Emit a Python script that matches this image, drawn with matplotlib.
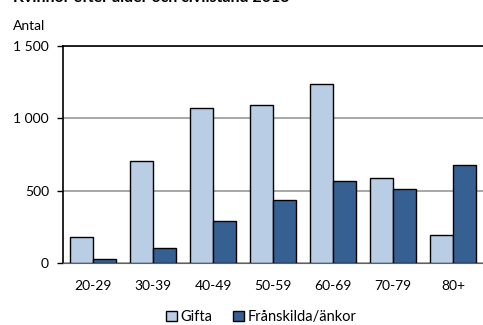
import matplotlib
matplotlib.use('Agg')
import matplotlib.pyplot as plt
import numpy as np

plt.rcParams['font.family'] = ['Lato', 'DejaVu Sans']

groups = ['20-29', '30-39', '40-49', '50-59', '60-69', '70-79', '80+']
gifta = [182, 707, 1071, 1092, 1237, 590, 191]
franskilda = [28, 106, 290, 435, 565, 511, 675]
yticks = [0, 500, 1000, 1500]
ylabels = ['0', '500', '1 000', '1 500']

fig = plt.figure(figsize=(4.83, 3.25), dpi=100)
ax = fig.add_axes([63/483, 1 - 263/325, 420/483, 217/325])

x = np.arange(len(groups))
w = 0.38
ax.bar(x - w/2, gifta, w, color='#B9CDE5', edgecolor='black', linewidth=1, label='Gifta', zorder=3)
ax.bar(x + w/2, franskilda, w, color='#376092', edgecolor='black', linewidth=1, label='Frånskilda/änkor', zorder=3)

ax.set_xlim(-0.5, 6.5)
ax.set_ylim(0, 1500)
ax.set_yticks(yticks)
ax.set_yticklabels(ylabels, fontsize=10)
ax.set_xticks(x)
ax.set_xticklabels(groups, fontsize=10)
ax.tick_params(axis='x', length=0, pad=12)
ax.tick_params(axis='y', length=4, width=1, pad=6)
ax.yaxis.grid(True, color='#A0A0A0', linewidth=1.3, zorder=0)
ax.spines['right'].set_visible(False)
ax.spines['bottom'].set_color('#606060')
for s in ['left', 'top']:
    ax.spines[s].set_linewidth(1.2)

fig.text(13/483, 1 - 26/325, 'Antal', fontsize=10, va='center')
# title sits mostly above the top edge, as in the reference
fig.text(13/483, 1.007, 'Kvinnor efter ålder och civilstånd 2013', fontsize=11.5, fontweight='bold', va='center')

leg = fig.legend(loc='center', bbox_to_anchor=(261/483, 1 - 317/325), ncol=2, frameon=False,
                 fontsize=10.5, handlelength=0.75, handleheight=0.75, handletextpad=0.25, columnspacing=1.4)

fig.savefig('out.png', dpi=100)
